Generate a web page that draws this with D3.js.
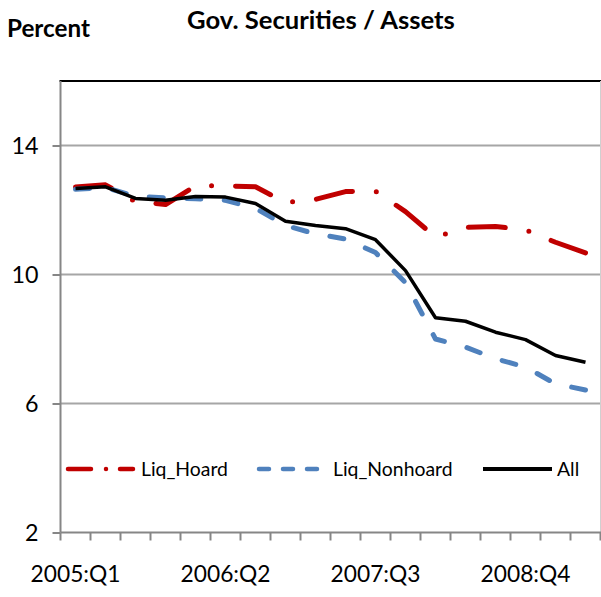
<!DOCTYPE html>
<html><head><meta charset="utf-8">
<script src="https://cdn.jsdelivr.net/npm/d3@7"></script>
<style>html,body{margin:0;padding:0;background:#fff;}svg{display:block;}</style>
</head><body>
<svg id="chart" width="601" height="597"></svg>
<script>
const categories = ["2005:Q1","2005:Q2","2005:Q3","2005:Q4","2006:Q1","2006:Q2","2006:Q3","2006:Q4",
  "2007:Q1","2007:Q2","2007:Q3","2007:Q4","2008:Q1","2008:Q2","2008:Q3","2008:Q4","2009:Q1","2009:Q2"];
const liqHoard    = [12.71,12.78,12.26,12.17,12.75,12.75,12.72,12.23,12.33,12.57,12.58,11.95,11.16,11.46,11.49,11.38,11.00,10.67];
const liqNonhoard = [12.64,12.70,12.42,12.38,12.35,12.30,12.05,11.52,11.26,11.10,10.68,9.75,8.00,7.75,7.39,7.13,6.61,6.42];
const allBanks    = [12.67,12.72,12.36,12.30,12.42,12.40,12.20,11.65,11.52,11.42,11.08,10.12,8.66,8.55,8.21,7.98,7.49,7.28];
const yTicks = [2,6,10,14];
const xLabels = ["2005:Q1","2006:Q2","2007:Q3","2008:Q4"];
const seriesNames = ["Liq_Hoard","Liq_Nonhoard","All"];
const titleText = "Gov. Securities / Assets";
const unitText = "Percent";

const svg = d3.select("#chart");
const FONT = "Lato, 'Open Sans', sans-serif";
const L = 60.5, R = 600.5, T = 81, B = 532.5;

const x = d3.scaleBand().domain(categories).range([L, R]).paddingInner(0).paddingOuter(0);
const y = d3.scaleLinear().domain([2, 16]).range([B, T]);
const cx = c => x(c) + x.bandwidth() / 2;

function fitSize(text, weight, target) {
  const t = svg.append("text").attr("font-family", FONT).attr("font-weight", weight)
    .attr("font-size", 100).text(text);
  const w = t.node().getComputedTextLength();
  t.remove();
  return 100 * target / w;
}

// gridlines
svg.append("g").selectAll("line").data(yTicks.filter(v => v !== 2)).join("line")
  .attr("x1", L).attr("x2", R).attr("y1", d => y(d)).attr("y2", d => y(d))
  .attr("stroke", "#a6a6a6").attr("stroke-width", 2);

// top border and right border
svg.append("line").attr("x1", L - 1).attr("x2", 601).attr("y1", y(16)).attr("y2", y(16))
  .attr("stroke", "#000").attr("stroke-width", 2);
svg.append("line").attr("x1", R).attr("x2", R).attr("y1", T).attr("y2", B)
  .attr("stroke", "#d0d0d0").attr("stroke-width", 1);

// y axis
const tickSize = fitSize("14", 400, 27);
const yAxis = d3.axisLeft(y).tickValues(yTicks).tickSize(8).tickFormat(d3.format("d"));
const gy = svg.append("g").attr("transform", `translate(${L},0)`).call(yAxis);
gy.select(".domain").attr("stroke", "#868686").attr("stroke-width", 2).attr("d", `M0,${T}V${B}`);
gy.selectAll(".tick line").attr("stroke", "#868686").attr("stroke-width", 2);
gy.selectAll(".tick text").attr("font-family", FONT).attr("font-size", tickSize)
  .attr("fill", "#000").attr("x", -22).attr("dy", "0.34em");

// x axis (ticks between categories)
const tickPos = categories.map(c => x(c)).concat([R]);
const gx = svg.append("g");
gx.append("line").attr("x1", L).attr("x2", 601).attr("y1", B).attr("y2", B)
  .attr("stroke", "#868686").attr("stroke-width", 2);
gx.selectAll("line.tk").data(tickPos).join("line").attr("class", "tk")
  .attr("x1", d => d).attr("x2", d => d).attr("y1", B).attr("y2", B + 8)
  .attr("stroke", "#868686").attr("stroke-width", 2);
const xLabSize = fitSize("2005:Q1", 400, 90);
gx.selectAll("text").data(xLabels).join("text")
  .attr("x", d => cx(d)).attr("y", 582).attr("text-anchor", "middle")
  .attr("font-family", FONT).attr("font-size", xLabSize).attr("fill", "#000").text(d => d);

// titles
svg.append("text").attr("x", 321).attr("y", 29).attr("text-anchor", "middle")
  .attr("font-family", FONT).attr("font-weight", 700)
  .attr("font-size", fitSize(titleText, 700, 268)).text(titleText);
svg.append("text").attr("x", 7).attr("y", 37)
  .attr("font-family", FONT).attr("font-weight", 700)
  .attr("font-size", fitSize(unitText, 700, 83)).text(unitText);

// lines
const line = d3.line().x((d, i) => cx(categories[i])).y(d => y(d));
const styles = [
  {data: liqHoard, color: "#C00000", width: 5, dash: [37,24,0,24], legDash: "23,15,0,14"},
  {data: liqNonhoard, color: "#4F81BD", width: 5, dash: [14.5,24], legDash: "10,14", fitEnd: true},
  {data: allBanks, color: "#000000", width: 3.5, dash: null, legDash: null}
];
styles.forEach(s => {
  const p = svg.append("path").datum(s.data).attr("d", line).attr("fill", "none")
    .attr("stroke", s.color).attr("stroke-width", s.width)
    .attr("stroke-linecap", s.dash ? "round" : "butt").attr("stroke-linejoin", "round");
  if (s.dash) {
    let dash = s.dash.slice();
    if (s.fitEnd) {
      const len = p.node().getTotalLength();
      const period = dash[0] + dash[1];
      const n = Math.round((len - dash[0]) / period);
      const k = len / (n * period + dash[0]);
      dash = dash.map(v => v * k);
    }
    p.attr("stroke-dasharray", dash.join(","));
  }
});

// legend
const legSize = fitSize("Liq_Hoard", 400, 87);
const legY = 469;
const legPos = [{x1: 68, x2: 133, tx: 141}, {x1: 259, x2: 317, tx: 333}, {x1: 483, x2: 552, tx: 557}];
seriesNames.forEach((n, i) => {
  const s = styles[i], p = legPos[i];
  svg.append("line").attr("x1", p.x1).attr("x2", p.x2).attr("y1", legY).attr("y2", legY)
    .attr("stroke", s.color).attr("stroke-width", i === 2 ? 4 : 4.5)
    .attr("stroke-linecap", s.legDash ? "round" : "butt").attr("stroke-dasharray", s.legDash);
  svg.append("text").attr("x", p.tx).attr("y", legY).attr("dy", "0.35em")
    .attr("font-family", FONT).attr("font-size", legSize).attr("fill", "#000").text(n);
});
</script>
</body></html>
